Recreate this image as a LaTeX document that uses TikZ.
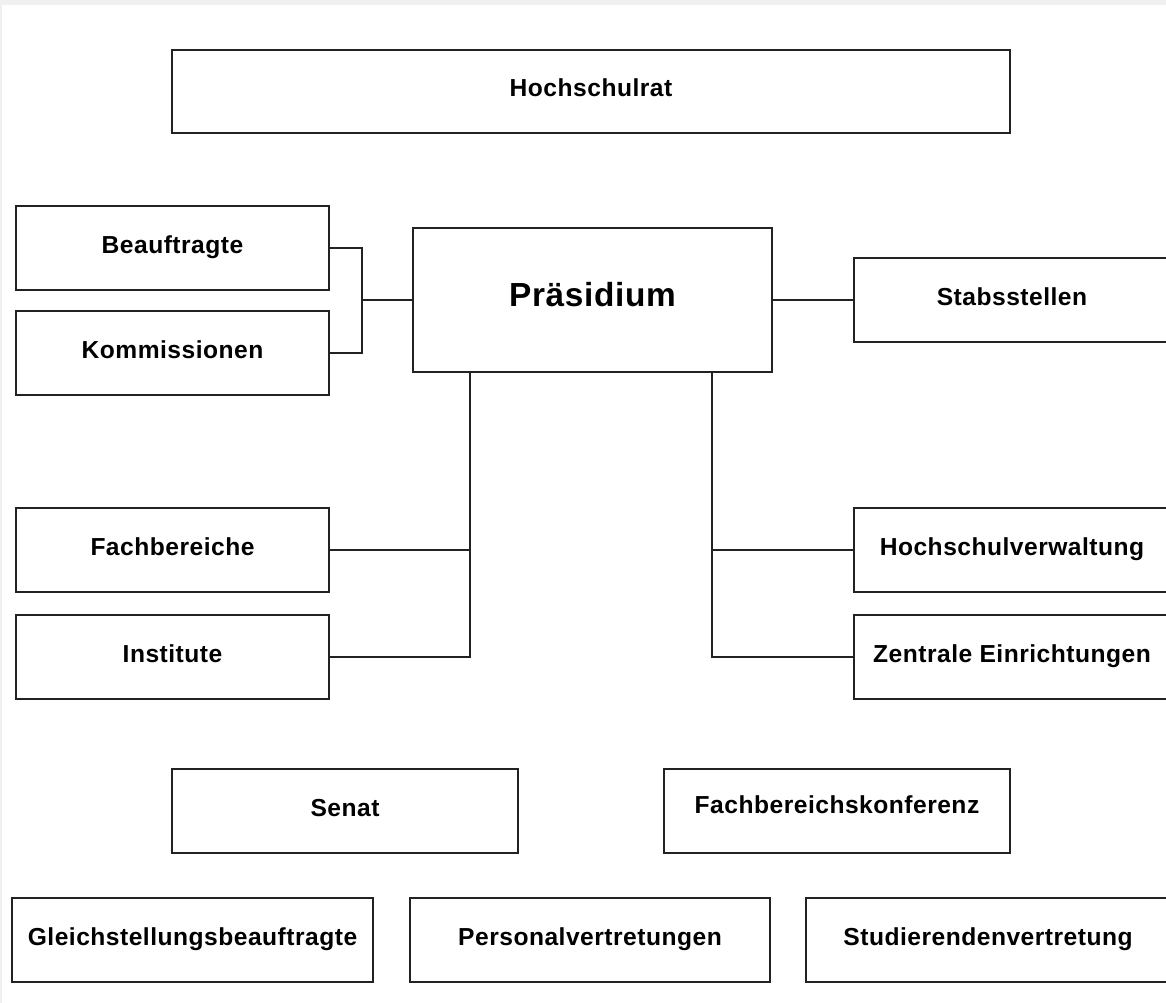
\documentclass[tikz,border=0pt]{standalone}
\usepackage{fontspec}
\setmainfont{Liberation Sans}
\newfontfamily\boxfont{Liberation Sans}[LetterSpace=2]
\usetikzlibrary{calc}
\definecolor{frame}{HTML}{F0F0F0}
\definecolor{ink}{HTML}{222222}

\tikzset{
  unit/.style={draw=ink,line width=1.3pt,fill=white,inner sep=0pt,
    minimum width=313*0.02cm,minimum height=84*0.02cm,
    font=\boxfont\bfseries\fontsize{14pt}{16pt}\selectfont,
    text height=0.72em,text depth=0.1em},
  wide/.style={unit,minimum width=#1*0.02cm},
  link/.style={draw=ink,line width=1.3pt}
}

\begin{document}
\begin{tikzpicture}[x=0.02cm,y=-0.02cm]
 \useasboundingbox (0,0) rectangle (1166,1003);
 \fill[frame] (0,0) rectangle (1166,1003);
 \fill[white] (2,5) rectangle (1166,1003);
 \clip (0,0) rectangle (1166,1003);
 % top
 \node[wide=838,minimum height=83*0.02cm] (rat) at (591,91.5) {Hochschulrat};
 \node[wide=359,minimum height=144*0.02cm,text depth=0pt,
   font=\boxfont\bfseries\fontsize{19pt}{22pt}\selectfont] (praes) at (592.5,300) {Präsidium};
 % left column
 \node[unit] (beauf) at (172.5,248) {Beauftragte};
 \node[unit] (komm) at (172.5,353) {Kommissionen};
 \node[unit] (fach) at (172.5,550) {Fachbereiche};
 \node[unit] (inst) at (172.5,657) {Institute};
 % right column
 \node[wide=316] (stab) at (1012,300) {Stabsstellen};
 \node[wide=316] (verw) at (1012,550) {Hochschulverwaltung};
 \node[wide=316] (zentr) at (1012,657) {Zentrale Einrichtungen};
 % gremien
 \node[wide=346] (senat) at (345,811) {Senat};
 \node[wide=346,text depth=0.45em] (fbk) at (837,811) {Fachbereichskonferenz};
 \node[wide=361] (gleich) at (192.5,940) {Gleichstellungsbeauftragte};
 \node[wide=360] (pers) at (590,940) {Personalvertretungen};
 \node[wide=364] (stud) at (988,940) {Studierendenvertretung};

 % connectors
 \coordinate (bj) at (362,300);
 \coordinate (lt) at (470,657);
 \coordinate (rt) at (712,657);
 \draw[link] (beauf.east) -| (bj) |- (komm.east);
 \draw[link] (bj) -- (praes.west);
 \draw[link] (praes.east) -- (stab.west);
 \draw[link] (lt |- praes.south) -- (lt) -- (inst.east);
 \draw[link] (fach.east) -- (fach.east -| lt);
 \draw[link] (rt |- praes.south) -- (rt) -- (zentr.west);
 \draw[link] (verw.west) -- (verw.west -| rt);
\end{tikzpicture}
\end{document}
